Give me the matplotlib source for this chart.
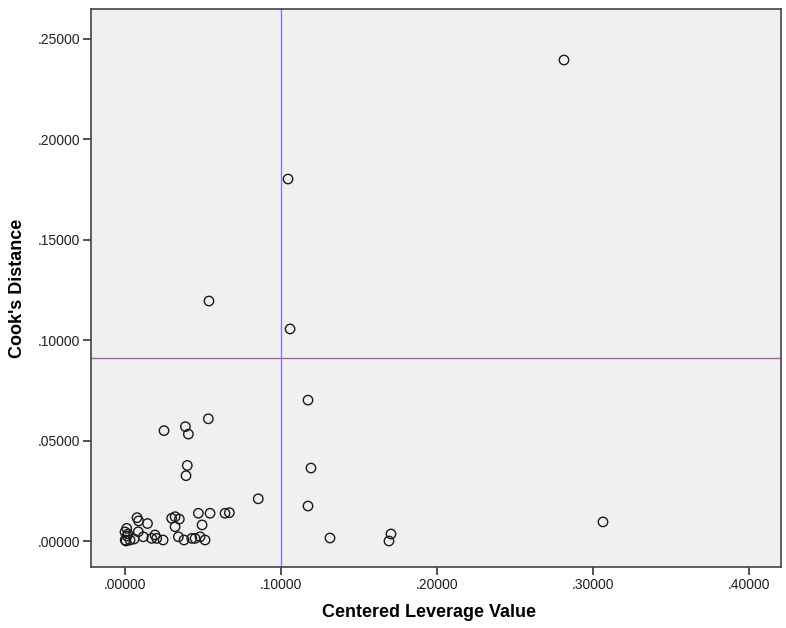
import matplotlib
matplotlib.use("Agg")
import matplotlib.pyplot as plt
from matplotlib.ticker import FuncFormatter, MultipleLocator

# Centered leverage vs Cook's distance for each case
leverage = [
    0.2814, 0.1045, 0.0538, 0.1058, 0.1173, 0.0534, 0.0250, 0.0387, 0.0406,
    0.0399, 0.0391, 0.1192, 0.1173, 0.0854, 0.1314, 0.1705, 0.1692, 0.3064,
    0.0669, 0.0641, 0.0545, 0.0470, 0.0494, 0.0299, 0.0321, 0.0348, 0.0321,
    0.0077, 0.0087, 0.0144, 0.0011, 0.0085, 0.0117, 0.0192, 0.0203, 0.0171,
    0.0244, 0.0342, 0.0378, 0.0428, 0.0449, 0.0481, 0.0513, 0.0000, 0.0013,
    0.0001, 0.0032, 0.0006, 0.0058, 0.0019,
]
cooks = [
    0.2393, 0.1801, 0.1194, 0.1055, 0.0701, 0.0608, 0.0549, 0.0569, 0.0532,
    0.0376, 0.0325, 0.0363, 0.0174, 0.0210, 0.0015, 0.0035, 0.0000, 0.0095,
    0.0141, 0.0138, 0.0138, 0.0138, 0.0080, 0.0113, 0.0121, 0.0109, 0.0071,
    0.0116, 0.0100, 0.0087, 0.0063, 0.0046, 0.0021, 0.0030, 0.0013, 0.0013,
    0.0005, 0.0021, 0.0005, 0.0013, 0.0013, 0.0021, 0.0005, 0.0045, 0.0025,
    0.0005, 0.0005, 0.0000, 0.0010, 0.0035,
]

leverage_cutoff = 0.10
cooks_cutoff = 4 / 44

plt.rcParams["font.family"] = ["Liberation Sans", "DejaVu Sans"]

fig = plt.figure(figsize=(7.86, 6.28), dpi=100)
ax = fig.add_axes([0.1164, 0.0966, 0.8772, 0.8891])
ax.set_facecolor("#F0F0F0")

ax.axvline(leverage_cutoff, color="#7C7CF2", lw=1.0, zorder=1)
ax.axhline(cooks_cutoff, color="#A066A6", lw=1.0, zorder=1)

ax.scatter(leverage, cooks, s=46, facecolors="none", edgecolors="#1a1a1a",
           linewidths=1.0, zorder=3)

ax.set_xlim(-0.0215, 0.4205)
ax.set_ylim(-0.0131, 0.2647)

fmt = FuncFormatter(lambda v, _: f"{v:.5f}".lstrip("0") if v >= 0 else f"{v:.5f}")
ax.xaxis.set_major_locator(MultipleLocator(0.1))
ax.yaxis.set_major_locator(MultipleLocator(0.05))
ax.xaxis.set_major_formatter(fmt)
ax.yaxis.set_major_formatter(fmt)

ax.tick_params(direction="out", length=6, width=1.2, color="#333333",
               labelsize=10, labelcolor="#222222", pad=2)
for sp in ax.spines.values():
    sp.set_color("#444444")
    sp.set_linewidth(1.2)

ax.set_xlabel("Centered Leverage Value", fontsize=13, fontweight="bold", va="center")
ax.set_ylabel("Cook's Distance", fontsize=13, fontweight="bold", va="center")
ax.xaxis.set_label_coords(0.49, -0.080)
ax.yaxis.set_label_coords(-0.1066, 0.5)

fig.savefig("out.png", dpi=100)
